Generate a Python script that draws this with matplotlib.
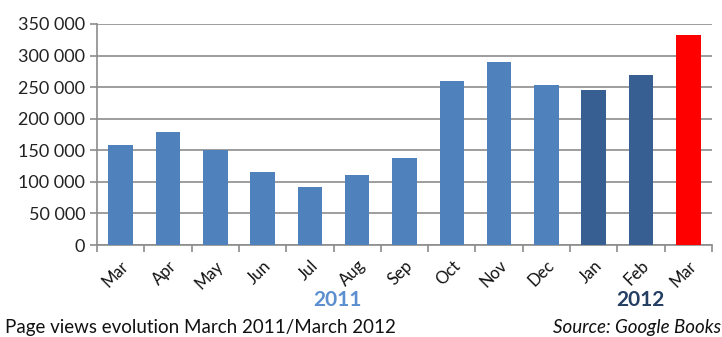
import matplotlib
matplotlib.use("Agg")
import matplotlib.pyplot as plt
from matplotlib.ticker import FuncFormatter, FixedLocator

months = ["Mar", "Apr", "May", "Jun", "Jul", "Aug", "Sep", "Oct", "Nov", "Dec", "Jan", "Feb", "Mar"]
views = [158000, 179000, 150000, 115500, 92500, 111500, 137000, 259000, 290500, 253000, 245500, 269000, 332500]
colors = ["#4f81bd"] * 10 + ["#375f91"] * 2 + ["#ff0000"]
yticks = [0, 50000, 100000, 150000, 200000, 250000, 300000, 350000]

plt.rcParams['font.family'] = ['Lato', 'DejaVu Sans']

fig = plt.figure(figsize=(7.22, 3.37), dpi=100)
ax = fig.add_axes([97/722, 1-245/337, (712-97)/722, (245-24)/337])

x = list(range(len(months)))
ax.bar(x, views, width=0.52, color=colors, zorder=3)
ax.set_xlim(-0.5, len(months)-0.5)
ax.set_ylim(0, 350000)
ax.set_yticks(yticks)
ax.yaxis.set_major_formatter(FuncFormatter(lambda v, p: f"{int(v):,}".replace(",", " ")))
ax.grid(axis='y', color='#8c8c8c', linewidth=1.2, zorder=0)
for s in ['top', 'right']:
    ax.spines[s].set_visible(False)
ax.spines['left'].set_color('#8c8c8c')
ax.spines['bottom'].set_color('#8c8c8c')
ax.spines['left'].set_linewidth(1.2)
ax.spines['bottom'].set_linewidth(1.2)

ax.set_xticks(x)
ax.set_xticklabels(months, rotation=45, ha='right', rotation_mode='anchor', fontsize=12, color='#111111')
ax.tick_params(axis='x', length=0, pad=9)
ax.xaxis.set_minor_locator(FixedLocator([i - 0.5 for i in range(len(months)+1)]))
ax.tick_params(axis='x', which='minor', length=5, color='#8c8c8c', width=1.2)
ax.tick_params(axis='y', length=5, color='#8c8c8c', width=1.2, labelsize=13, labelcolor='#222222')

fig.text(337/722, 1-300/337, "2011", color="#5b8fd0", fontsize=15, fontweight='bold', ha='center', va='center')
fig.text(640/722, 1-300/337, "2012", color="#253f63", fontsize=15, fontweight='bold', ha='center', va='center')
fig.text(5/722, 1-327/337, "Page views evolution March 2011/March 2012", fontsize=13.5, ha='left', va='center', color='#111111')
fig.text(721/722, 1-327/337, "Source: Google Books", fontsize=13.5, style='italic', ha='right', va='center', color='#111111')

fig.savefig("out.png", dpi=100)
